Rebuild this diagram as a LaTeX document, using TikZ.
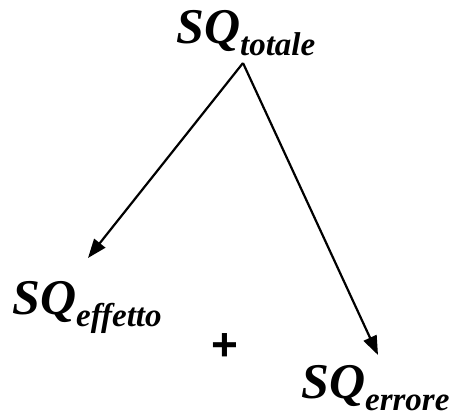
\documentclass[tikz,border=0pt]{standalone}
\usepackage{fontspec}
\setmainfont{Liberation Serif}
\newfontfamily\plusfont{Liberation Sans}
\usetikzlibrary{arrows.meta}

\newcommand{\sqterm}[1]{{\fontsize{50}{52}\selectfont\bfseries\itshape SQ}%
  \raisebox{-12pt}{\fontsize{33}{35}\selectfont\bfseries\itshape #1}}

\tikzset{sqnode/.style={inner sep=0pt,anchor=base west},
         branch/.style={line width=2.2pt,-{Triangle[length=19pt,width=14pt]}}}

\begin{document}
\begin{tikzpicture}[x=1pt,y=-1pt]
  \useasboundingbox (0,0) rectangle (450,418);
  %
  \node[sqnode] (tot) at (176,43) {\sqterm{totale}};
  \node[sqnode] (eff) at (12,314) {\sqterm{effetto}};
  \node[sqnode] (err) at (301,398) {\sqterm{errore}};
  \node[inner sep=0pt] (plus) at (225,347) {\plusfont\fontsize{46}{46}\selectfont\bfseries +};
  %
  \coordinate (top) at (243,63);
  \coordinate (effend) at (88,258);
  \coordinate (errend) at (378,355);
  \draw[branch] (top) -- (effend);
  \draw[branch] (top) -- (errend);
\end{tikzpicture}
\end{document}
